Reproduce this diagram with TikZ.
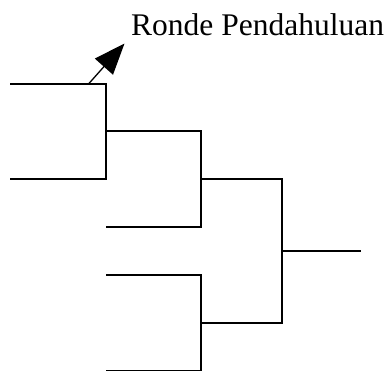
\documentclass[tikz,border=0pt]{standalone}
\usepackage{fontspec}
\setmainfont{Liberation Serif}
\usetikzlibrary{arrows.meta}
\begin{document}
\begin{tikzpicture}[x=1pt,y=-1pt,
  bracket/.style={line width=1.3pt,line join=miter},
  pointer/.style={line width=1.3pt,-{Triangle[length=31pt,width=24pt]}},
  lbl/.style={font=\fontsize{31.5}{36}\selectfont,inner sep=0pt,anchor=base west}]
\useasboundingbox (0,0) rectangle (390,371);
% first round
\coordinate (a1) at (10,84);
\coordinate (a2) at (106,84);
\coordinate (a3) at (106,179);
\coordinate (a4) at (10,179);
\draw[bracket] (a1) -- (a2) -- (a3) -- (a4);
% quarter brackets
\coordinate (b1) at (106,131);
\coordinate (b2) at (201,131);
\coordinate (b3) at (201,227);
\coordinate (b4) at (106,227);
\draw[bracket] (b1) -- (b2) -- (b3) -- (b4);
\coordinate (c1) at (106,275);
\coordinate (c2) at (201,275);
\coordinate (c3) at (201,370.3);
\coordinate (c4) at (106,370.3);
\draw[bracket] (c1) -- (c2) -- (c3) -- (c4);
% semi bracket
\coordinate (d1) at (201,179);
\coordinate (d2) at (282,179);
\coordinate (d3) at (282,323);
\coordinate (d4) at (201,323);
\draw[bracket] (d1) -- (d2) -- (d3) -- (d4);
% final
\coordinate (e1) at (282,251);
\coordinate (e2) at (361,251);
\draw[bracket] (e1) -- (e2);
% label and arrow
\node[lbl] (t) at (131,36) {Ronde Pendahuluan};
\coordinate (p0) at (88.5,84);
\coordinate (p1) at (124.5,43.5);
\draw[pointer] (p0) -- (p1);
\end{tikzpicture}
\end{document}
